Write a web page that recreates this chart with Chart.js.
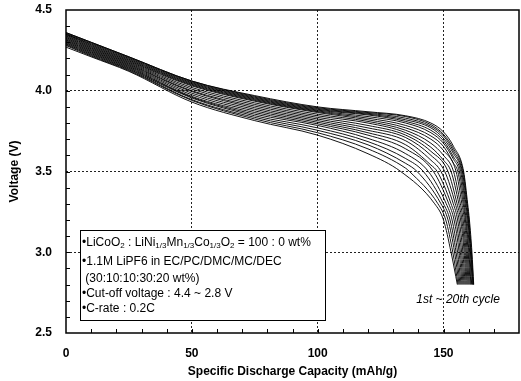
<!DOCTYPE html>
<html>
<head>
<meta charset="utf-8">
<script src="https://cdn.jsdelivr.net/npm/chart.js@4.4.1/dist/chart.umd.min.js"></script>
<style>
  html, body { margin: 0; padding: 0; background: #fff; }
</style>
</head>
<body>
<canvas id="chart" width="521" height="381"></canvas>
<script>
"use strict";
// discharge curves: [capacity (mAh/g), voltage (V)]
// cycle01 is the outermost curve, cycle20 the innermost
const cycle01 = [[0,4.36],[10,4.30],[25,4.21],[50,4.06],[75,3.97],[100,3.90],[120,3.87],[135,3.845],[145,3.80],[150,3.745],[154,3.655],[158,3.5],[159.6,3.3],[160.3,3.2],[161.3,3.0],[162,2.8]];
const cycle02 = [[0,4.36],[10,4.30],[25,4.21],[50,4.06],[75,3.965],[100,3.895],[120,3.865],[135,3.84],[145,3.79],[150,3.73],[154,3.64],[157.8,3.5],[159.4,3.3],[160.1,3.2],[161.1,3.0],[161.9,2.8]];
const cycle03 = [[0,4.355],[10,4.295],[25,4.205],[50,4.055],[75,3.96],[100,3.89],[120,3.86],[135,3.83],[145,3.78],[150,3.72],[154,3.625],[157.5,3.5],[159.2,3.3],[159.9,3.2],[160.9,3.0],[161.7,2.8]];
const cycle04 = [[0,4.35],[10,4.29],[25,4.20],[50,4.05],[75,3.955],[100,3.885],[120,3.855],[135,3.82],[145,3.77],[150,3.705],[154,3.61],[157.2,3.5],[158.9,3.3],[159.7,3.2],[160.7,3.0],[161.5,2.8]];
const cycle05 = [[0,4.35],[10,4.285],[25,4.195],[50,4.045],[75,3.95],[100,3.88],[120,3.85],[135,3.81],[145,3.755],[150,3.69],[154,3.59],[156.8,3.5],[158.6,3.3],[159.4,3.2],[160.4,3.0],[161.2,2.8]];
const cycle06 = [[0,4.345],[10,4.28],[25,4.19],[50,4.04],[75,3.945],[100,3.875],[120,3.84],[135,3.80],[145,3.74],[150,3.675],[154,3.575],[156.3,3.5],[158.2,3.3],[159.0,3.2],[160.1,3.0],[160.9,2.8]];
const cycle07 = [[0,4.34],[10,4.275],[25,4.185],[50,4.035],[75,3.94],[100,3.87],[120,3.83],[135,3.785],[145,3.72],[150,3.655],[154,3.55],[155.7,3.5],[157.8,3.3],[158.7,3.2],[159.8,3.0],[160.6,2.8]];
const cycle08 = [[0,4.335],[10,4.27],[25,4.18],[50,4.03],[75,3.935],[100,3.865],[120,3.82],[135,3.77],[145,3.70],[150,3.63],[155,3.5],[157.3,3.3],[158.3,3.2],[159.4,3.0],[160.2,2.8]];
const cycle09 = [[0,4.33],[10,4.265],[25,4.175],[50,4.02],[75,3.925],[100,3.855],[120,3.81],[135,3.755],[145,3.675],[150,3.60],[154,3.5],[156.7,3.3],[157.8,3.2],[159.0,3.0],[159.8,2.8]];
const cycle10 = [[0,4.325],[10,4.26],[25,4.17],[50,4.01],[75,3.915],[100,3.845],[120,3.80],[135,3.74],[145,3.65],[150,3.57],[153,3.5],[156.1,3.3],[157.3,3.2],[158.6,3.0],[159.4,2.8]];
const cycle11 = [[0,4.32],[10,4.255],[25,4.165],[50,4.00],[75,3.905],[100,3.835],[120,3.785],[135,3.725],[145,3.625],[151.8,3.5],[155.4,3.3],[156.8,3.2],[158.2,3.0],[159.0,2.8]];
const cycle12 = [[0,4.315],[10,4.25],[25,4.16],[50,3.995],[75,3.895],[100,3.825],[120,3.77],[135,3.71],[145,3.60],[150.5,3.5],[154.7,3.3],[156.2,3.2],[157.7,3.0],[158.6,2.8]];
const cycle13 = [[0,4.31],[10,4.245],[25,4.155],[50,3.985],[75,3.885],[100,3.815],[120,3.755],[135,3.69],[145,3.57],[149,3.5],[153.9,3.3],[155.6,3.2],[157.2,3.0],[158.2,2.8]];
const cycle14 = [[0,4.305],[10,4.24],[25,4.15],[50,3.975],[75,3.875],[100,3.805],[120,3.74],[135,3.665],[145,3.54],[147.5,3.5],[153.0,3.3],[154.9,3.2],[156.7,3.0],[157.8,2.8]];
const cycle15 = [[0,4.30],[10,4.235],[25,4.145],[50,3.965],[75,3.865],[100,3.795],[120,3.725],[135,3.64],[146,3.5],[152.1,3.3],[154.2,3.2],[156.2,3.0],[157.4,2.8]];
const cycle16 = [[0,4.295],[10,4.23],[25,4.14],[50,3.96],[75,3.855],[100,3.785],[120,3.705],[135,3.61],[144,3.5],[151.1,3.3],[153.4,3.2],[155.6,3.0],[157.0,2.8]];
const cycle17 = [[0,4.29],[10,4.225],[25,4.135],[50,3.955],[75,3.845],[100,3.77],[120,3.685],[135,3.58],[142,3.5],[150.0,3.3],[152.6,3.2],[155.0,3.0],[156.6,2.8]];
const cycle18 = [[0,4.285],[10,4.22],[25,4.13],[50,3.945],[75,3.835],[100,3.755],[120,3.665],[135,3.55],[139.5,3.5],[149.0,3.3],[151.8,3.2],[154.4,3.0],[156.2,2.8]];
const cycle19 = [[0,4.28],[10,4.215],[25,4.125],[50,3.94],[75,3.825],[100,3.74],[120,3.64],[135,3.52],[136.5,3.5],[147.8,3.3],[150.9,3.2],[153.7,3.0],[155.8,2.8]];
const cycle20 = [[0,4.27],[10,4.21],[25,4.12],[50,3.93],[75,3.815],[100,3.725],[120,3.61],[133,3.5],[146.5,3.3],[150.0,3.2],[153.0,3.0],[155.5,2.8]];

const cycles = [cycle01, cycle02, cycle03, cycle04, cycle05, cycle06, cycle07, cycle08, cycle09, cycle10,
  cycle11, cycle12, cycle13, cycle14, cycle15, cycle16, cycle17, cycle18, cycle19, cycle20];

const xMajor = [50, 100, 150];
const yMajor = [3.0, 3.5, 4.0];

const noteLines = [
  [["\u2022LiCoO", 0], ["2", 1], [" : LiNi", 0], ["1/3", 1], ["Mn", 0], ["1/3", 1], ["Co", 0], ["1/3", 1], ["O", 0], ["2", 1], [" = 100 : 0 wt%", 0]],
  [["\u20221.1M LiPF6 in EC/PC/DMC/MC/DEC", 0]],
  [[" (30:10:10:30:20 wt%)", 0]],
  [["\u2022Cut-off voltage : 4.4 ~ 2.8 V", 0]],
  [["\u2022C-rate : 0.2C", 0]],
];
const cycleNote = "1st ~ 20th cycle";

const FONT = "'Liberation Sans', Arial, sans-serif";

const isMajor = (list, v) => list.some((m) => Math.abs(m - v) < 1e-6);

const extras = {
  id: "extras",
  afterDatasetsDraw(chart) {
    const { ctx, chartArea: a, scales: { x, y } } = chart;
    ctx.save();
    ctx.strokeStyle = "#000";
    ctx.lineWidth = 1;
    // small inner ticks
    ctx.beginPath();
    for (let v = 10; v < 180; v += 10) {
      const px = Math.round(x.getPixelForValue(v)) + 0.5;
      ctx.moveTo(px, a.bottom);
      ctx.lineTo(px, a.bottom - 4);
    }
    for (let i = 1; i < 20; i++) {
      const py = Math.round(y.getPixelForValue(2.5 + i * 0.1)) + 0.5;
      ctx.moveTo(a.left, py);
      ctx.lineTo(a.left + 4, py);
    }
    ctx.stroke();

    // frame
    ctx.lineWidth = 1.5;
    ctx.strokeRect(a.left, a.top, a.right - a.left, a.bottom - a.top);

    // note box
    const bx1 = Math.round(x.getPixelForValue(5.4)) + 0.5;
    const bx2 = Math.round(x.getPixelForValue(102.8)) + 0.5;
    const by1 = Math.round(y.getPixelForValue(3.136)) + 0.5;
    const by2 = Math.round(y.getPixelForValue(2.58)) + 0.5;
    ctx.fillStyle = "#fff";
    ctx.fillRect(bx1, by1, bx2 - bx1, by2 - by1);
    ctx.lineWidth = 1;
    ctx.strokeRect(bx1, by1, bx2 - bx1, by2 - by1);

    ctx.fillStyle = "#000";
    ctx.textBaseline = "middle";
    ctx.textAlign = "left";
    const offsets = [12, 31, 48, 63, 78];
    noteLines.forEach((runs, i) => {
      let cx = bx1 + 1.5;
      const cy = by1 + offsets[i];
      runs.forEach(([t, sub]) => {
        ctx.font = (sub ? "8px " : "12px ") + FONT;
        ctx.fillText(t, cx, sub ? cy + 3 : cy);
        cx += ctx.measureText(t).width;
      });
    });

    ctx.font = "italic 12px " + FONT;
    ctx.textAlign = "center";
    ctx.fillText(cycleNote, x.getPixelForValue(155.8), y.getPixelForValue(2.704));
    ctx.restore();
  },
};

new Chart(document.getElementById("chart"), {
  type: "line",
  data: {
    datasets: cycles.map((pts, i) => ({
      label: "Cycle " + (i + 1),
      data: pts.map(([cap, v]) => ({ x: cap, y: v })),
      borderColor: "rgba(0,0,0,0.92)",
      borderWidth: 1,
      pointRadius: 0,
      fill: false,
      cubicInterpolationMode: "monotone",
    })),
  },
  options: {
    responsive: false,
    animation: false,
    events: [],
    layout: { padding: { top: 10, right: 2, left: 0, bottom: 0 } },
    plugins: { legend: { display: false }, tooltip: { enabled: false } },
    scales: {
      x: {
        type: "linear",
        min: 0,
        max: 180,
        afterFit: (s) => {
          s.height = 48;
          s.paddingLeft = 0;
          s.paddingRight = 0;
        },
        ticks: {
          stepSize: 50,
          color: "#000",
          padding: 13,
          maxRotation: 0,
          font: { family: FONT, size: 12, weight: "bold" },
          callback: (v) => (v % 50 === 0 ? String(v) : ""),
        },
        grid: {
          drawTicks: false,
          lineWidth: 1,
          color: (c) => (c.tick && isMajor(xMajor, c.tick.value) ? "#222" : "rgba(0,0,0,0)"),
        },
        border: { display: false, dash: [2, 2] },
        title: {
          display: true,
          text: "Specific Discharge Capacity (mAh/g)",
          color: "#000",
          padding: { top: 0, bottom: 2 },
          font: { family: FONT, size: 12, weight: "bold" },
        },
      },
      y: {
        min: 2.5,
        max: 4.5,
        afterFit: (s) => {
          s.width = 66;
          s.paddingTop = 0;
          s.paddingBottom = 0;
        },
        ticks: {
          stepSize: 0.5,
          color: "#000",
          padding: 14,
          font: { family: FONT, size: 12, weight: "bold" },
          callback: (v) => v.toFixed(1),
        },
        grid: {
          drawTicks: false,
          lineWidth: 1,
          color: (c) => (c.tick && isMajor(yMajor, c.tick.value) ? "#222" : "rgba(0,0,0,0)"),
        },
        border: { display: false, dash: [2, 2] },
        title: {
          display: true,
          text: "Voltage (V)",
          color: "#000",
          padding: { top: 7, bottom: 0 },
          font: { family: FONT, size: 12, weight: "bold" },
        },
      },
    },
  },
  plugins: [extras],
});
</script>
</body>
</html>
